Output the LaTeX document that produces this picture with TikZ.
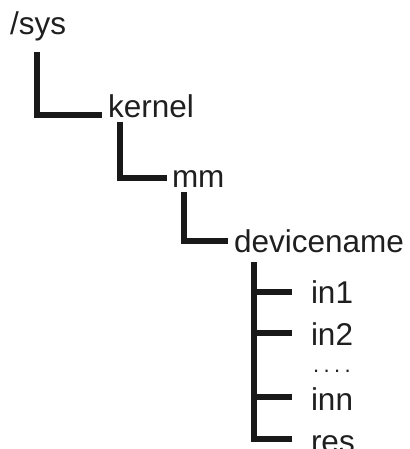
\documentclass[tikz,border=0pt]{standalone}
\usepackage{fontspec}
\setmainfont{Liberation Sans}
\begin{document}
\begin{tikzpicture}[x=1pt,y=-1pt,
  lbl/.style={anchor=base west,inner sep=0pt,outer sep=0pt,text=black!88,font=\fontsize{31.5}{36}\selectfont},
  conn/.style={line width=6pt,draw=black!90,line join=miter}]
\useasboundingbox (0,0) rectangle (409,449);
% labels
\node[lbl] (sys) at (10,35) {/sys};
\node[lbl] (kernel) at (108,118) {kernel};
\node[lbl] (mm) at (172,187) {mm};
\node[lbl] (dev) at (234,252) {devicename};
\node[lbl] (in1) at (311,303) {in1};
\node[lbl] (in2) at (311,345) {in2};
\node[lbl] (dots) at (313,372) {\fontsize{22}{26}\selectfont.\kern4.4pt.\kern4.4pt.\kern4.4pt.};
\node[lbl] (inn) at (311,410) {inn};
\node[lbl] (res) at (311,452) {res};
% connector anchor points
\coordinate (s1) at (37,52);   \coordinate (e1) at (102,115);
\coordinate (s2) at (120,122); \coordinate (e2) at (167,178);
\coordinate (s3) at (184,192); \coordinate (e3) at (228,241);
\coordinate (s4) at (254,262);
\coordinate (b1) at (292,292); \coordinate (b2) at (292,333);
\coordinate (b3) at (292,397); \coordinate (b4) at (292,439);
% connectors
\draw[conn] (s1) |- (e1);
\draw[conn] (s2) |- (e2);
\draw[conn] (s3) |- (e3);
\draw[conn] (s4) |- (b4);
\draw[conn] (s4 |- b1) -- (b1);
\draw[conn] (s4 |- b2) -- (b2);
\draw[conn] (s4 |- b3) -- (b3);
\end{tikzpicture}
\end{document}
